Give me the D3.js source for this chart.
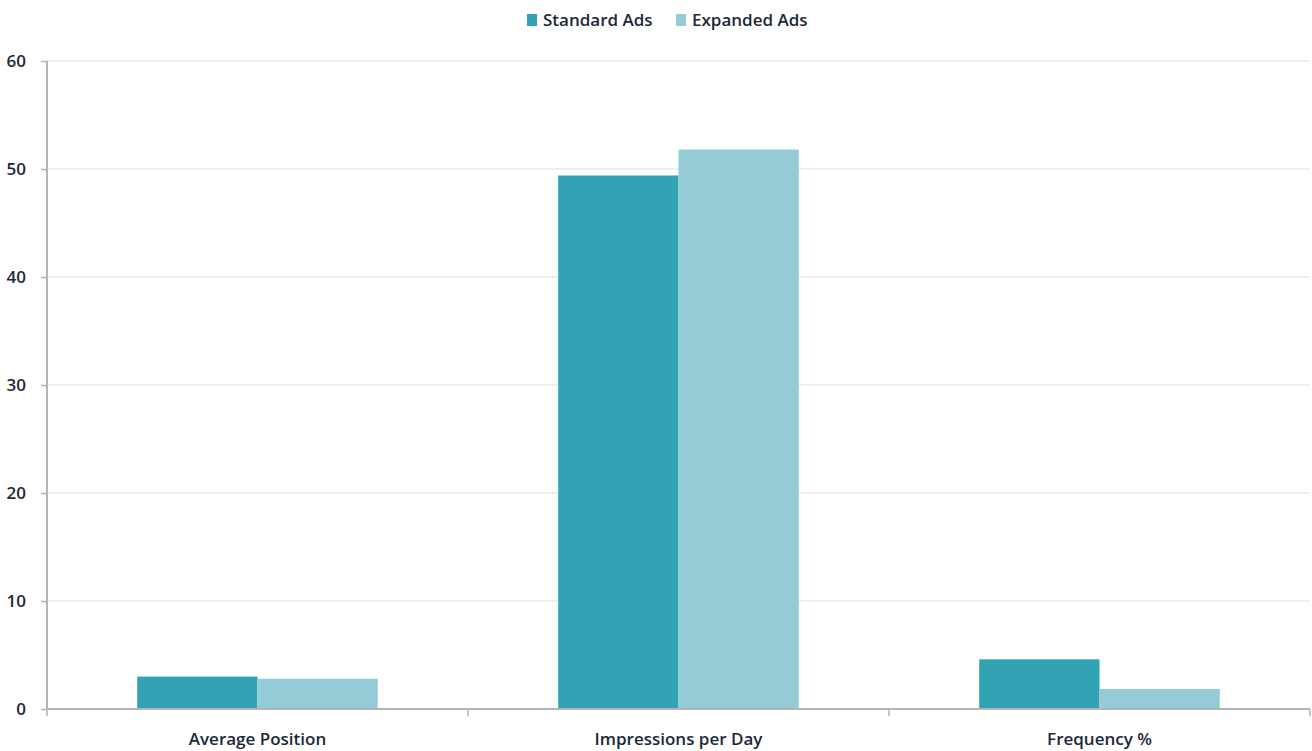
<!DOCTYPE html>
<html>
<head>
<meta charset="utf-8">
<script src="https://cdn.jsdelivr.net/npm/d3@7"></script>
<style>
  body { margin: 0; background: #fff; }
  text { font-family: "Open Sans", sans-serif; fill: #1c2838; }
</style>
</head>
<body>
<div id="chart"></div>
<script>
var categories = ["Average Position", "Impressions per Day", "Frequency %"];
var seriesNames = ["Standard Ads", "Expanded Ads"];
var standardAds = [3.0, 49.4, 4.6];
var expandedAds = [2.8, 51.8, 1.85];
var yTicks = [0, 10, 20, 30, 40, 50, 60];
var colors = ["#32a3b5", "#95cad7"];

var W = 1312, H = 751;
var margin = {top: 61, right: 2, bottom: 42, left: 47};
var width = W - margin.left - margin.right,
    height = H - margin.top - margin.bottom;

var svg = d3.select("#chart").append("svg")
    .attr("width", W).attr("height", H);
var g = svg.append("g")
    .attr("transform", "translate(" + margin.left + "," + margin.top + ")");

var y = d3.scaleLinear().domain([0, 60]).range([height, 0]);
var x0 = d3.scaleBand().domain(categories).range([0, width]).padding(0);
var x1 = d3.scaleBand().domain(seriesNames).range([0, x0.bandwidth()])
    .paddingInner(0).paddingOuter(0.75);

// gridlines
g.selectAll("line.grid")
    .data(yTicks.slice(1))
  .enter().append("line")
    .attr("class", "grid")
    .attr("x1", 0).attr("x2", width)
    .attr("y1", function(d) { return y(d); })
    .attr("y2", function(d) { return y(d); })
    .attr("stroke", "#e9e9e9").attr("stroke-width", 1.5);

// bars
var rows = categories.map(function(c, i) {
    return {cat: c, vals: [standardAds[i], expandedAds[i]]};
});
var groups = g.selectAll("g.cat")
    .data(rows)
  .enter().append("g")
    .attr("transform", function(d) { return "translate(" + x0(d.cat) + ",0)"; });
groups.selectAll("rect")
    .data(function(d) { return d.vals.map(function(v, j) { return {s: seriesNames[j], v: v, j: j}; }); })
  .enter().append("rect")
    .attr("x", function(d) { return x1(d.s); })
    .attr("width", x1.bandwidth())
    .attr("y", function(d) { return y(d.v); })
    .attr("height", function(d) { return height - y(d.v); })
    .attr("fill", function(d) { return colors[d.j]; });

// y axis
var yaxis = d3.axisLeft(y).tickValues(yTicks).tickSize(6).tickPadding(15);
var ya = g.append("g").call(yaxis);
ya.select(".domain").attr("stroke", "#b5b5b5").attr("stroke-width", 2).attr("d", "M0,0V" + height);
ya.selectAll(".tick line").attr("stroke", "#b5b5b5").attr("stroke-width", 1.5);
ya.selectAll("text").style("font-size", "17px").style("font-weight", 600).attr("fill", "#1c2838");

// x axis
var xa = g.append("g").attr("transform", "translate(0," + height + ")")
    .call(d3.axisBottom(x0).tickSize(0).tickPadding(24));
xa.select(".domain").attr("stroke", "#b5b5b5").attr("stroke-width", 2).attr("d", "M0,0H" + width);
xa.selectAll("text").style("font-size", "17px").style("font-weight", 600).attr("fill", "#1c2838");
// boundary ticks between categories
var bounds = categories.map(function(c) { return x0(c); }).concat([width]);
xa.selectAll("line.bound")
    .data(bounds)
  .enter().append("line")
    .attr("class", "bound")
    .attr("x1", function(d) { return d; }).attr("x2", function(d) { return d; })
    .attr("y1", 0).attr("y2", 7)
    .attr("stroke", "#b5b5b5").attr("stroke-width", 1.5);

// legend
var legendX = [527, 676];
var legend = svg.selectAll("g.legend")
    .data(seriesNames)
  .enter().append("g")
    .attr("transform", function(d, i) { return "translate(" + legendX[i] + ",14)"; });
legend.append("rect").attr("width", 10).attr("height", 12)
    .attr("fill", function(d, i) { return colors[i]; });
legend.append("text").attr("x", 16).attr("y", 12)
    .style("font-size", "17px").style("font-weight", 600)
    .text(function(d) { return d; });
</script>
</body>
</html>
